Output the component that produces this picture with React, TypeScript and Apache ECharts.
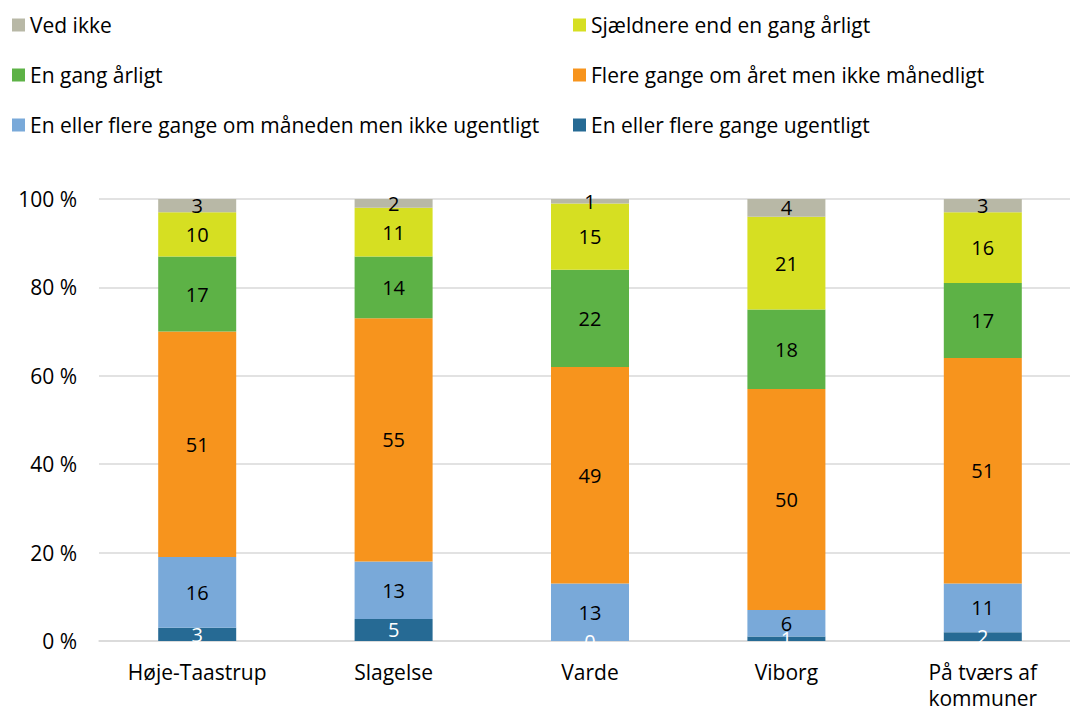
import React, { useEffect, useRef } from "react";
import * as echarts from "echarts";

const categories = ["Høje-Taastrup", "Slagelse", "Varde", "Viborg", "På tværs af\nkommuner"];
const seriesNames = [
  "En eller flere gange ugentligt",
  "En eller flere gange om måneden men ikke ugentligt",
  "Flere gange om året men ikke månedligt",
  "En gang årligt",
  "Sjældnere end en gang årligt",
  "Ved ikke",
];
const ugentligt = [3, 5, 0, 1, 2];
const maaned = [16, 13, 13, 6, 11];
const flere = [51, 55, 49, 50, 51];
const enGang = [17, 14, 22, 18, 17];
const sjaeldnere = [10, 11, 15, 21, 16];
const vedIkke = [3, 2, 1, 4, 3];
const yTicks = [0, 20, 40, 60, 80, 100];

const colors = ["#266a94", "#79a9d9", "#f7941d", "#5db246", "#d6df22", "#b8b8a6"];
const allData = [ugentligt, maaned, flere, enGang, sjaeldnere, vedIkke];

const FONT = "Open Sans";
const FS = 21;

export default function App() {
  const ref = useRef<HTMLDivElement>(null);
  useEffect(() => {
    document.body.style.margin = "0";
    if (!ref.current) return;
    const chart = echarts.init(ref.current, null, { renderer: "svg" });
    const legendPos: { name: string; left: number; top: number }[] = [
      { name: "Ved ikke", left: 12, top: 25 },
      { name: "Sjældnere end en gang årligt", left: 573, top: 25 },
      { name: "En gang årligt", left: 12, top: 75 },
      { name: "Flere gange om året men ikke månedligt", left: 573, top: 75 },
      { name: "En eller flere gange om måneden men ikke ugentligt", left: 12, top: 125 },
      { name: "En eller flere gange ugentligt", left: 573, top: 125 },
    ];
    const legends = legendPos.map((l) => ({
      data: [l.name],
      left: l.left,
      top: l.top - 12,
      itemWidth: 13,
      itemHeight: 13,
      itemGap: 0,
      padding: 0,
      icon: "rect",
      selectedMode: false,
      textStyle: { fontFamily: FONT, fontSize: FS, color: "#000", lineHeight: 24 },
    }));
    chart.setOption({
      animation: false,
      legend: legends,
      grid: { left: 99, top: 199, width: 982, height: 442, containLabel: false },
      xAxis: {
        type: "category",
        data: categories,
        axisLine: { lineStyle: { color: "#d9d9d9", width: 1.5 } },
        axisTick: { show: false },
        axisLabel: {
          fontFamily: FONT,
          fontSize: FS,
          color: "#000",
          margin: 18,
          lineHeight: 26,
          interval: 0,
        },
      },
      yAxis: {
        type: "value",
        min: 0,
        max: 100,
        interval: 20,
        axisLine: { show: false },
        axisTick: { show: false },
        splitLine: { lineStyle: { color: "#d9d9d9", width: 1.5 } },
        axisLabel: {
          fontFamily: FONT,
          fontSize: FS,
          color: "#000",
          margin: 22,
          formatter: (v: number) => (yTicks.includes(v) ? `${v} %` : ""),
        },
      },
      series: seriesNames.map((name, i) => ({
        name,
        type: "bar",
        stack: "total",
        barWidth: 78,
        data: allData[i],
        itemStyle: { color: colors[i] },
        label: {
          show: true,
          position: "inside",
          fontFamily: FONT,
          fontSize: FS - 1,
          color: i === 0 ? "#fff" : "#000",
        },
        labelLayout: { hideOverlap: false },
      })),
    });
    return () => chart.dispose();
  }, []);
  return (
    <div style={{ width: 1070, height: 711, overflow: "hidden" }}>
      <div ref={ref} style={{ width: 1100, height: 711 }} />
    </div>
  );
}
